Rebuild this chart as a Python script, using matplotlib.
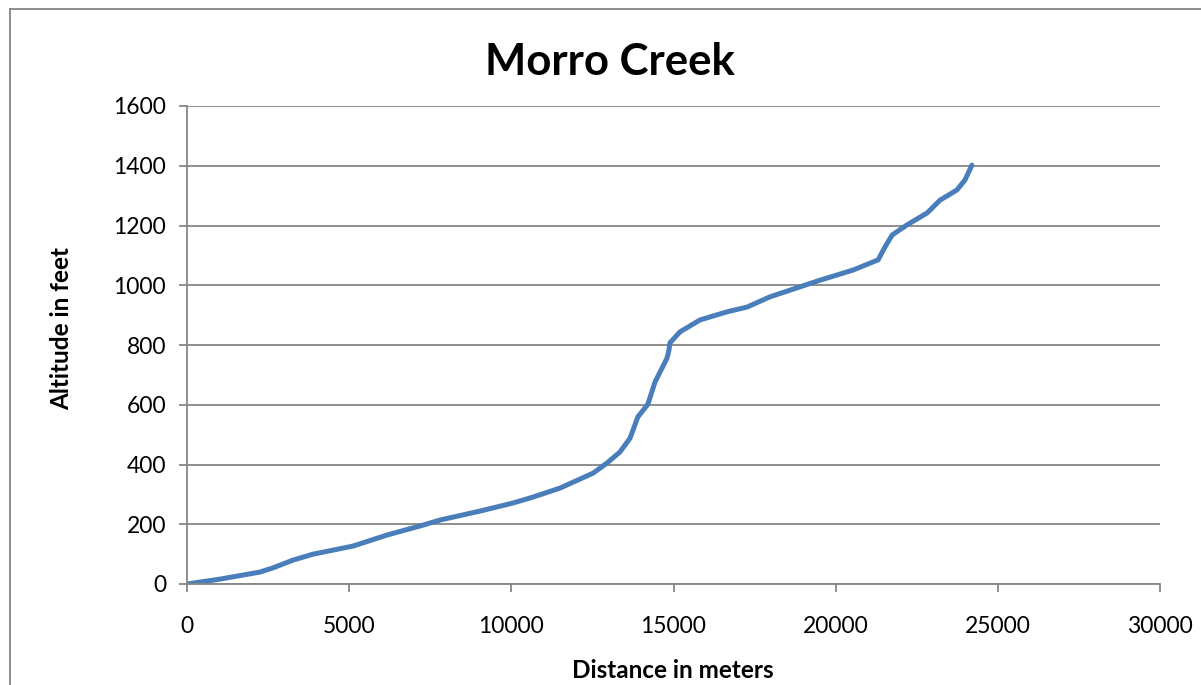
import matplotlib
matplotlib.use("Agg")
from matplotlib import pyplot as plt
from matplotlib.lines import Line2D

# 数据：距离（米）与海拔（英尺）
distance = [0, 1000, 2250, 2650, 3270, 3890, 5120, 6170, 7180, 7800, 9030, 10050,
            10670, 11500, 12520, 12950, 13350, 13660, 13900, 14210, 14430, 14800,
            14860, 14890, 15200, 15820, 16650, 17270, 17970, 19520, 20540, 21310,
            21520, 21740, 22200, 22820, 23220, 23740, 23990, 24200]
altitude = [0, 16, 40, 54, 80, 100, 127, 164, 194, 214, 244, 271,
            291, 321, 371, 405, 442, 488, 559, 602, 676, 756,
            783, 807, 844, 884, 911, 927, 961, 1017, 1051, 1085,
            1128, 1168, 1202, 1242, 1285, 1319, 1353, 1402]
x_ticks = [0, 5000, 10000, 15000, 20000, 25000, 30000]
y_ticks = [0, 200, 400, 600, 800, 1000, 1200, 1400, 1600]

W, H = 1201, 685
plt.rcParams['font.family'] = ['Lato', 'DejaVu Sans']
fig = plt.figure(figsize=(W / 100, H / 100), dpi=100)
ax = fig.add_axes([187 / W, 1 - 584 / H, (1160 - 187) / W, (584 - 106) / H])

grid_color = '#868686'
ax.plot(distance, altitude, color='#4A7EBB', linewidth=3.6, solid_capstyle='round', solid_joinstyle='round')
ax.set_xlim(0, 30000)
ax.set_ylim(0, 1600)
ax.set_xticks(x_ticks)
ax.set_yticks(y_ticks)
ax.yaxis.grid(True, color=grid_color, linewidth=1.3)
ax.set_axisbelow(True)
for s in ['top', 'right']:
    ax.spines[s].set_visible(False)
for s in ['left', 'bottom']:
    ax.spines[s].set_color(grid_color)
    ax.spines[s].set_linewidth(1.3)
ax.tick_params(axis='both', colors=grid_color, labelcolor='black', labelsize=16.5, length=6, width=1.3)
ax.tick_params(axis='x', pad=17)
ax.tick_params(axis='y', pad=9)

fig.text(610 / W, 1 - 62 / H, 'Morro Creek', ha='center', va='center', fontsize=31.5, fontweight='bold')
fig.text(673 / W, 1 - 671 / H, 'Distance in meters', ha='center', va='center', fontsize=17.5, fontweight='bold')
fig.text(62 / W, 1 - 328 / H, 'Altitude in feet', ha='center', va='center', fontsize=17.5, fontweight='bold', rotation=90)

# 外边框（只看得到左边和上边）
fig.add_artist(Line2D([10 / W, 10 / W], [0, 1 - 9 / H], color=grid_color, linewidth=1.3))
fig.add_artist(Line2D([10 / W, 1], [1 - 9 / H, 1 - 9 / H], color=grid_color, linewidth=1.3))

fig.savefig('out.png', dpi=100)
